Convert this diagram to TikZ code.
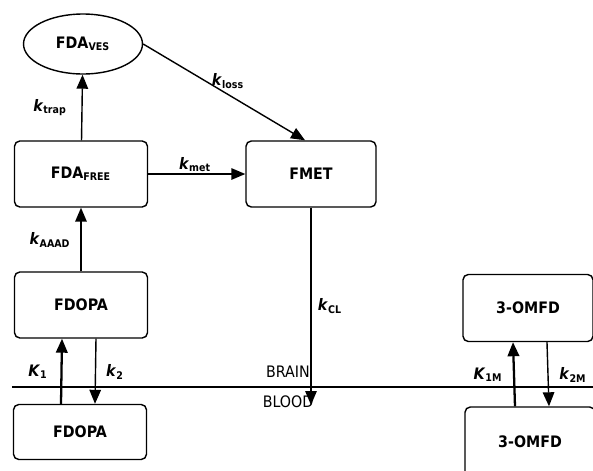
\documentclass[tikz,border=0pt]{standalone}
\usepackage{fontspec}
\setmainfont{DejaVu Sans Condensed}
\usetikzlibrary{arrows.meta,shapes.geometric}
\tikzset{
  comp/.style ={rectangle, rounded corners=3pt, draw, thick, align=center,
                minimum width=2.66cm, minimum height=1.32cm, font=\bfseries\small},
  pool/.style ={ellipse, draw, thick, minimum width=2.38cm, minimum height=1.2cm,
                font=\bfseries\small},
  ar/.style   ={-{Triangle[length=2.8mm,width=2.3mm]}, thick},
  arb/.style  ={ar, line width=1.3pt},
  rate/.style ={font=\bfseries\small},
  side/.style ={font=\small}
}
\newcommand{\kr}[2]{\textit{#1}\textsubscript{#2}}

\begin{document}
\begin{tikzpicture}[x=0.02cm, y=-0.02cm]
\clip (0,0) rectangle (593,471);
% brain compartments
\node[pool] (ves) at (83,44) {FDA\textsubscript{VES}};
\node[comp] (free) at (81,174) {FDA\textsubscript{FREE}};
\node[comp, minimum width=2.6cm] (fmet) at (311,174) {FMET};
\node[comp] (fdopab) at (81,305) {FDOPA};
\node[comp, minimum width=2.6cm, minimum height=1.34cm] (omfdb) at (528,308) {3-OMFD};
% blood compartments
\node[comp, minimum height=1.1cm] (fdopap) at (80,432) {FDOPA};
\node[comp, minimum width=2.6cm, minimum height=1.4cm] (omfdp) at (530,442) {3-OMFD};
% barrier
\coordinate (bbbl) at (12,387);
\coordinate (bbbr) at (600,387);
\draw[thick] (bbbl) -- (bbbr);
\node[side] (brain) at (288,372) {BRAIN};
\node[side] (blood) at (288,402) {BLOOD};
\coordinate (clend) at (311,405);
% transfers
\draw[ar] (free) -- (ves);
\draw[ar] (free) -- (fmet);
\draw[ar] (ves.east) -- (fmet.100);
\draw[ar] (fdopab) -- (free);
\draw[ar] (fmet) -- (clend);
\draw[arb] ([xshift=-0.38cm]fdopap.north) -- ([xshift=-0.38cm]fdopab.south);
\draw[ar] ([xshift=0.3cm]fdopab.south) -- ([xshift=0.3cm]fdopap.north);
\draw[arb] ([xshift=-0.3cm]omfdp.north) -- ([xshift=-0.3cm]omfdb.south);
\draw[ar] ([xshift=0.38cm]omfdb.south) -- ([xshift=0.38cm]omfdp.north);
% rate constants
\node[rate] (ktrap) at (50,108) {\kr{k}{trap}};
\node[rate] (kmet) at (195,165) {\kr{k}{met}};
\node[rate] (kloss) at (228,81) {\kr{k}{loss}};
\node[rate] (kaaad) at (50,240) {\kr{k}{AAAD}};
\node[rate] (kcl) at (330,306) {\kr{k}{CL}};
\node[rate] (kone) at (38,372) {\kr{K}{1}};
\node[rate] (ktwo) at (115,372) {\kr{k}{2}};
\node[rate] (konem) at (488,375) {\kr{K}{1M}};
\node[rate] (ktwom) at (573,375) {\kr{k}{2M}};
\end{tikzpicture}
\end{document}
